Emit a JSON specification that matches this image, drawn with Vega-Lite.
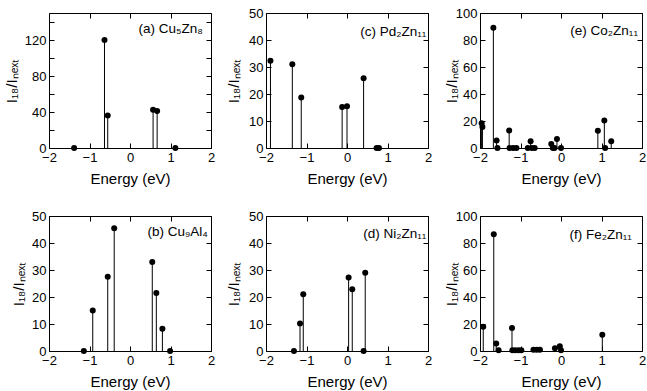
{
  "$schema": "https://vega.github.io/schema/vega-lite/v6.json",
  "padding": {"left": 3, "top": 6, "right": 2, "bottom": 0},
  "background": "white",
  "datasets": {
    "a": [{"e": -1.38, "r": 0}, {"e": -0.63, "r": 120}, {"e": -0.55, "r": 36}, {"e": 0.57, "r": 42.5}, {"e": 0.67, "r": 41}, {"e": 1.12, "r": 0}],
    "b": [{"e": -1.14, "r": 0}, {"e": -0.92, "r": 15}, {"e": -0.55, "r": 27.5}, {"e": -0.39, "r": 45.5}, {"e": 0.55, "r": 33}, {"e": 0.65, "r": 21.5}, {"e": 0.8, "r": 8.2}, {"e": 0.99, "r": 0}],
    "c": [{"e": -1.89, "r": 32.3}, {"e": -1.35, "r": 31}, {"e": -1.13, "r": 18.7}, {"e": -0.12, "r": 15.2}, {"e": 0.0, "r": 15.5}, {"e": 0.41, "r": 25.8}, {"e": 0.73, "r": 0}, {"e": 0.79, "r": 0}],
    "d": [{"e": -1.31, "r": 0}, {"e": -1.16, "r": 10.2}, {"e": -1.08, "r": 21}, {"e": 0.04, "r": 27.2}, {"e": 0.13, "r": 22.9}, {"e": 0.41, "r": 0}, {"e": 0.45, "r": 29}],
    "e": [{"e": -1.96, "r": 18.4}, {"e": -1.94, "r": 15.5}, {"e": -1.67, "r": 89}, {"e": -1.59, "r": 5.6}, {"e": -1.57, "r": 0}, {"e": -1.28, "r": 13}, {"e": -1.27, "r": 0}, {"e": -1.18, "r": 0}, {"e": -1.1, "r": 0}, {"e": -0.82, "r": 0}, {"e": -0.75, "r": 5}, {"e": -0.72, "r": 0}, {"e": -0.65, "r": 0}, {"e": -0.24, "r": 3}, {"e": -0.2, "r": 0}, {"e": -0.16, "r": 0}, {"e": -0.1, "r": 6.6}, {"e": 0.0, "r": 0}, {"e": 0.91, "r": 12.8}, {"e": 1.07, "r": 20.4}, {"e": 1.09, "r": 0}, {"e": 1.24, "r": 5}],
    "f": [{"e": -1.92, "r": 18}, {"e": -1.66, "r": 86.5}, {"e": -1.6, "r": 5.5}, {"e": -1.54, "r": 0.5}, {"e": -1.21, "r": 17}, {"e": -1.2, "r": 0.5}, {"e": -1.13, "r": 0.5}, {"e": -1.05, "r": 0.5}, {"e": -0.98, "r": 0.5}, {"e": -0.68, "r": 1}, {"e": -0.6, "r": 1}, {"e": -0.52, "r": 1}, {"e": -0.15, "r": 2}, {"e": -0.03, "r": 3.5}, {"e": 0.0, "r": 0.5}, {"e": 1.02, "r": 12}]
  },
  "columns": 3,
  "spacing": {"row": 22, "column": 10},
  "concat": [
    {
      "width": 162, "height": 135,
      "data": {"name": "a"},
      "layer": [
        {"mark": {"type": "rule", "color": "#000", "strokeWidth": 1},
         "encoding": {
           "x": {"field": "e", "type": "quantitative", "scale": {"domain": [-2, 2], "nice": false}, "axis": {"values": [-2, -1, 0, 1, 2], "title": "Energy (eV)"}},
           "y": {"field": "r", "type": "quantitative", "scale": {"domain": [0, 150], "nice": false}, "axis": {"values": [0, 20, 40, 60, 80, 100, 120, 140], "labelExpr": "datum.value % 40 === 0 ? datum.label : ''", "title": "I₁₈/Iₙₑₓₜ"}},
           "y2": {"datum": 0}}},
        {"mark": {"type": "point", "filled": true, "color": "#000", "size": 36, "opacity": 1},
         "encoding": {
           "x": {"field": "e", "type": "quantitative", "axis": {"orient": "top", "values": [-2, -1, 0, 1, 2], "labels": false, "title": null}},
           "y": {"field": "r", "type": "quantitative", "axis": {"orient": "right", "values": [0, 20, 40, 60, 80, 100, 120, 140], "labels": false, "title": null}}}},
        {"data": {"values": [{"t": "(a) Cu₅Zn₈"}]},
         "mark": {"type": "text", "align": "right", "baseline": "middle", "fontSize": 13.5, "color": "#000"},
         "encoding": {"x": {"datum": 1.8, "type": "quantitative", "axis": null}, "y": {"datum": 132, "type": "quantitative", "axis": null}, "text": {"field": "t"}}}
      ],
      "resolve": {"axis": {"x": "independent", "y": "independent"}}
    },
    {
      "width": 162, "height": 135,
      "data": {"name": "c"},
      "layer": [
        {"mark": {"type": "rule", "color": "#000", "strokeWidth": 1},
         "encoding": {
           "x": {"field": "e", "type": "quantitative", "scale": {"domain": [-2, 2], "nice": false}, "axis": {"values": [-2, -1, 0, 1, 2], "title": "Energy (eV)"}},
           "y": {"field": "r", "type": "quantitative", "scale": {"domain": [0, 50], "nice": false}, "axis": {"values": [0, 10, 20, 30, 40, 50], "title": "I₁₈/Iₙₑₓₜ", "titlePadding": 7}},
           "y2": {"datum": 0}}},
        {"mark": {"type": "point", "filled": true, "color": "#000", "size": 36, "opacity": 1},
         "encoding": {
           "x": {"field": "e", "type": "quantitative", "axis": {"orient": "top", "values": [-2, -1, 0, 1, 2], "labels": false, "title": null}},
           "y": {"field": "r", "type": "quantitative", "axis": {"orient": "right", "values": [0, 10, 20, 30, 40, 50], "labels": false, "title": null}}}},
        {"data": {"values": [{"t": "(c) Pd₂Zn₁₁"}]},
         "mark": {"type": "text", "align": "right", "baseline": "middle", "fontSize": 13.5, "color": "#000"},
         "encoding": {"x": {"datum": 1.96, "type": "quantitative", "axis": null}, "y": {"datum": 43, "type": "quantitative", "axis": null}, "text": {"field": "t"}}}
      ],
      "resolve": {"axis": {"x": "independent", "y": "independent"}}
    },
    {
      "width": 162, "height": 135,
      "data": {"name": "e"},
      "layer": [
        {"mark": {"type": "rule", "color": "#000", "strokeWidth": 1},
         "encoding": {
           "x": {"field": "e", "type": "quantitative", "scale": {"domain": [-2, 2], "nice": false}, "axis": {"values": [-2, -1, 0, 1, 2], "title": "Energy (eV)"}},
           "y": {"field": "r", "type": "quantitative", "scale": {"domain": [0, 100], "nice": false}, "axis": {"values": [0, 20, 40, 60, 80, 100], "title": "I₁₈/Iₙₑₓₜ", "titlePadding": -4}},
           "y2": {"datum": 0}}},
        {"mark": {"type": "point", "filled": true, "color": "#000", "size": 36, "opacity": 1},
         "encoding": {
           "x": {"field": "e", "type": "quantitative", "axis": {"orient": "top", "values": [-2, -1, 0, 1, 2], "labels": false, "title": null}},
           "y": {"field": "r", "type": "quantitative", "axis": {"orient": "right", "values": [0, 20, 40, 60, 80, 100], "labels": false, "title": null}}}},
        {"data": {"values": [{"t": "(e) Co₂Zn₁₁"}]},
         "mark": {"type": "text", "align": "right", "baseline": "middle", "fontSize": 13.5, "color": "#000"},
         "encoding": {"x": {"datum": 1.9, "type": "quantitative", "axis": null}, "y": {"datum": 87, "type": "quantitative", "axis": null}, "text": {"field": "t"}}}
      ],
      "resolve": {"axis": {"x": "independent", "y": "independent"}}
    },
    {
      "width": 162, "height": 135,
      "data": {"name": "b"},
      "layer": [
        {"mark": {"type": "rule", "color": "#000", "strokeWidth": 1},
         "encoding": {
           "x": {"field": "e", "type": "quantitative", "scale": {"domain": [-2, 2], "nice": false}, "axis": {"values": [-2, -1, 0, 1, 2], "title": "Energy (eV)"}},
           "y": {"field": "r", "type": "quantitative", "scale": {"domain": [0, 50], "nice": false}, "axis": {"values": [0, 10, 20, 30, 40, 50], "title": "I₁₈/Iₙₑₓₜ"}},
           "y2": {"datum": 0}}},
        {"mark": {"type": "point", "filled": true, "color": "#000", "size": 36, "opacity": 1},
         "encoding": {
           "x": {"field": "e", "type": "quantitative", "axis": {"orient": "top", "values": [-2, -1, 0, 1, 2], "labels": false, "title": null}},
           "y": {"field": "r", "type": "quantitative", "axis": {"orient": "right", "values": [0, 10, 20, 30, 40, 50], "labels": false, "title": null}}}},
        {"data": {"values": [{"t": "(b) Cu₉Al₄"}]},
         "mark": {"type": "text", "align": "right", "baseline": "middle", "fontSize": 13.5, "color": "#000"},
         "encoding": {"x": {"datum": 1.92, "type": "quantitative", "axis": null}, "y": {"datum": 44, "type": "quantitative", "axis": null}, "text": {"field": "t"}}}
      ],
      "resolve": {"axis": {"x": "independent", "y": "independent"}}
    },
    {
      "width": 162, "height": 135,
      "data": {"name": "d"},
      "layer": [
        {"mark": {"type": "rule", "color": "#000", "strokeWidth": 1},
         "encoding": {
           "x": {"field": "e", "type": "quantitative", "scale": {"domain": [-2, 2], "nice": false}, "axis": {"values": [-2, -1, 0, 1, 2], "title": "Energy (eV)"}},
           "y": {"field": "r", "type": "quantitative", "scale": {"domain": [0, 50], "nice": false}, "axis": {"values": [0, 10, 20, 30, 40, 50], "title": "I₁₈/Iₙₑₓₜ", "titlePadding": 7}},
           "y2": {"datum": 0}}},
        {"mark": {"type": "point", "filled": true, "color": "#000", "size": 36, "opacity": 1},
         "encoding": {
           "x": {"field": "e", "type": "quantitative", "axis": {"orient": "top", "values": [-2, -1, 0, 1, 2], "labels": false, "title": null}},
           "y": {"field": "r", "type": "quantitative", "axis": {"orient": "right", "values": [0, 10, 20, 30, 40, 50], "labels": false, "title": null}}}},
        {"data": {"values": [{"t": "(d) Ni₂Zn₁₁"}]},
         "mark": {"type": "text", "align": "right", "baseline": "middle", "fontSize": 13.5, "color": "#000"},
         "encoding": {"x": {"datum": 1.96, "type": "quantitative", "axis": null}, "y": {"datum": 43.5, "type": "quantitative", "axis": null}, "text": {"field": "t"}}}
      ],
      "resolve": {"axis": {"x": "independent", "y": "independent"}}
    },
    {
      "width": 162, "height": 135,
      "data": {"name": "f"},
      "layer": [
        {"mark": {"type": "rule", "color": "#000", "strokeWidth": 1},
         "encoding": {
           "x": {"field": "e", "type": "quantitative", "scale": {"domain": [-2, 2], "nice": false}, "axis": {"values": [-2, -1, 0, 1, 2], "title": "Energy (eV)"}},
           "y": {"field": "r", "type": "quantitative", "scale": {"domain": [0, 100], "nice": false}, "axis": {"values": [0, 20, 40, 60, 80, 100], "title": "I₁₈/Iₙₑₓₜ", "titlePadding": -4}},
           "y2": {"datum": 0}}},
        {"mark": {"type": "point", "filled": true, "color": "#000", "size": 36, "opacity": 1},
         "encoding": {
           "x": {"field": "e", "type": "quantitative", "axis": {"orient": "top", "values": [-2, -1, 0, 1, 2], "labels": false, "title": null}},
           "y": {"field": "r", "type": "quantitative", "axis": {"orient": "right", "values": [0, 20, 40, 60, 80, 100], "labels": false, "title": null}}}},
        {"data": {"values": [{"t": "(f) Fe₂Zn₁₁"}]},
         "mark": {"type": "text", "align": "right", "baseline": "middle", "fontSize": 13.5, "color": "#000"},
         "encoding": {"x": {"datum": 1.75, "type": "quantitative", "axis": null}, "y": {"datum": 86, "type": "quantitative", "axis": null}, "text": {"field": "t"}}}
      ],
      "resolve": {"axis": {"x": "independent", "y": "independent"}}
    }
  ],
  "config": {
    "font": "Liberation Sans",
    "view": {"stroke": "#000", "strokeWidth": 1},
    "axis": {
      "grid": false,
      "domain": false,
      "tickSize": -5,
      "tickColor": "#000",
      "labelColor": "#000",
      "titleColor": "#000",
      "labelFontSize": 13,
      "titleFontSize": 15,
      "titleFontWeight": "normal",
      "labelFlush": false,
      "labelOverlap": false,
      "labelPadding": 8,
      "titlePadding": 5
    },
    "axisX": {"titlePadding": 7}
  }
}
